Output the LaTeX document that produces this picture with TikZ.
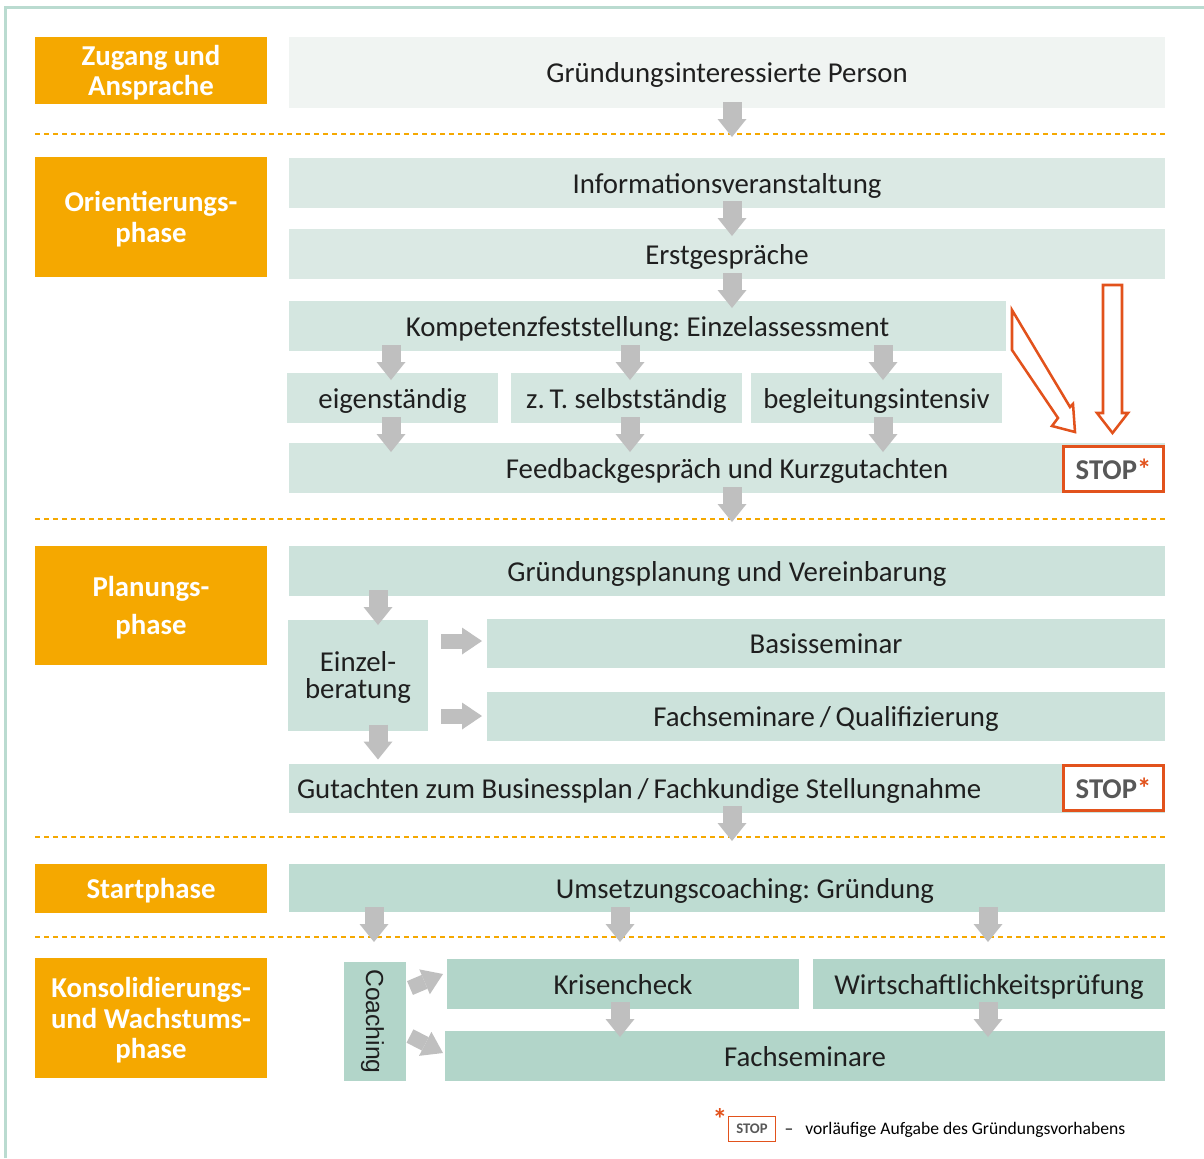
\documentclass[tikz,border=0pt]{standalone}
\usepackage{fontspec}
\setmainfont{Carlito}
\newfontfamily\coachfont{Liberation Sans}
\usetikzlibrary{arrows.meta,calc}

\definecolor{phaseorange}{RGB}{245,168,0}
\definecolor{stopred}{RGB}{226,82,28}
\definecolor{stopgray}{RGB}{88,88,88}
\definecolor{framegreen}{RGB}{186,219,208}
\definecolor{arrowgray}{RGB}{191,191,191}
\definecolor{boxa}{RGB}{240,244,242}
\definecolor{boxb}{RGB}{219,233,228}
\definecolor{boxc}{RGB}{212,230,224}
\definecolor{boxd}{RGB}{204,226,219}
\definecolor{boxe}{RGB}{190,220,210}
\definecolor{boxf}{RGB}{178,213,201}

\tikzset{
  wd/.style={minimum width=#1*0.75pt},
  ht/.style={minimum height=#1*0.75pt},
  box/.style={inner sep=0pt, outer sep=0pt, text depth=0pt, text=black!88,
    font=\fontsize{21.6}{25}\selectfont},
  phase/.style={box, fill=phaseorange, text=white, align=center, wd=232,
    font=\fontsize{21.6}{23}\selectfont\bfseries},
  stopbox/.style={draw=stopred, line width=2.2pt, fill=white, inner sep=0pt, wd=100, ht=45,
    text=stopgray, font=\fontsize{21.5}{22}\selectfont\bfseries},
  grayarr/.style={draw=arrowgray, line width=14.25pt,
    -{Triangle[width=21.75pt, length=13.5pt, line width=0pt]}},
  grayarrh/.style={draw=arrowgray, line width=11.25pt,
    -{Triangle[width=20.25pt, length=15pt, line width=0pt]}},
  phaseline/.style={draw=phaseorange, line width=1.2pt, dash pattern=on 3.75pt off 3pt},
  hollowarr/.style={draw=stopred, line width=1.9pt, line join=miter},
}

\begin{document}
\frenchspacing
\begin{tikzpicture}[x=0.75pt, y=-0.75pt]
    \useasboundingbox (0,0) rectangle (1204,1158);
    \draw[framegreen, line width=2.4pt] (5.5,1158) -- (5.5,7.5) -- (1204,7.5);

    % Trennlinien
    \draw[phaseline] (35,134) -- (1166,134);
    \draw[phaseline] (35,519) -- (1166,519);
    \draw[phaseline] (35,837) -- (1166,837);
    \draw[phaseline] (35,937) -- (1166,937);

    % Phasen
    \node[phase, ht=67] (zugang) at (151,70.5) {Zugang und\\Ansprache};
    \node[phase, ht=120] (orient) at (151,217) {Orientierungs-\\phase};
    \node[phase, ht=119] (plan) at (151,605.5) {Planungs-\\[5pt]phase};
    \node[phase, ht=49] (start) at (151,888.5) {Startphase};
    \node[phase, ht=120] (konsol) at (151,1018) {Konsolidierungs-\\und Wachstums-\\phase};

    % Zugang
    \node[box, fill=boxa, wd=876, ht=71] (person) at (727,72.5) {Gründungsinteressierte Person};

    % Orientierung
    \node[box, fill=boxb, wd=876, ht=50] (info) at (727,183) {Informationsveranstaltung};
    \node[box, fill=boxb, wd=876, ht=50] (erst) at (727,254) {Erstgespräche};
    \node[box, fill=boxc, wd=717, ht=50] (kompetenz) at (647.5,326) {Kompetenzfeststellung: Einzelassessment};
    \node[box, fill=boxc, wd=211, ht=50] (eigen) at (392.5,398) {eigenständig};
    \node[box, fill=boxc, wd=231, ht=50] (selbst) at (626.5,398) {z.\,T. selbstständig};
    \node[box, fill=boxc, wd=251, ht=50] (begl) at (876.5,398) {begleitungsintensiv};
    \node[box, fill=boxc, wd=876, ht=50] (feedback) at (727,468) {Feedbackgespräch und Kurzgutachten};
    \node[stopbox] (stopa) at (1113.5,469) {STOP\textcolor{stopred}{*}};

    % Planung
    \node[box, fill=boxd, wd=876, ht=50] (planung) at (727,571) {Gründungsplanung und Vereinbarung};
    \node[box, fill=boxd, wd=140, ht=111, align=center, font=\fontsize{21.6}{20}\selectfont] (einzel) at (358,675) {Einzel-\\beratung};
    \node[box, fill=boxd, wd=678, ht=49] (basis) at (826,643.5) {Basisseminar};
    \node[box, fill=boxd, wd=678, ht=49] (fachsem) at (826,716.5) {Fachseminare\,/\,Qualifizierung};
    \node[box, fill=boxd, wd=876, ht=49] (gutachten) at (727,788.5) {\makebox[645pt][l]{Gutachten zum Businessplan\,/\,Fachkundige Stellungnahme}};
    \node[stopbox] (stopb) at (1113.5,788) {STOP\textcolor{stopred}{*}};

    % Start
    \node[box, fill=boxe, wd=876, ht=48] (umsetz) at (727,888) {\hspace*{27pt}Umsetzungscoaching: Gründung};

    % Konsolidierung
    \node[box, fill=boxf, rotate=-90, wd=119, ht=62, font=\coachfont\fontsize{18.5}{20}\selectfont] (coaching) at (375,1021.5) {Coaching};
    \node[box, fill=boxf, wd=352, ht=50] (krisen) at (623,984) {Krisencheck};
    \node[box, fill=boxf, wd=352, ht=50] (wirt) at (989,984) {Wirtschaftlichkeitsprüfung};
    \node[box, fill=boxf, wd=720, ht=50] (fachs) at (805,1056) {Fachseminare};

    % graue Pfeile
    \draw[grayarr] ($(person.south)+(5,-6)$) -- ++(0,35);
    \draw[grayarr] ($(info.south)+(5,-7)$) -- ++(0,35);
    \draw[grayarr] ($(erst.south)+(5,-6)$) -- ++(0,35);
    \draw[grayarr] ($(kompetenz.south -| eigen.south)+(-1.5,-6)$) -- ++(0,35);
    \draw[grayarr] ($(kompetenz.south -| selbst.south)+(3.5,-6)$) -- ++(0,35);
    \draw[grayarr] ($(kompetenz.south -| begl.south)+(6.5,-6)$) -- ++(0,35);
    \draw[grayarr] ($(eigen.south)+(-1.5,-6)$) -- ++(0,35);
    \draw[grayarr] ($(selbst.south)+(3.5,-6)$) -- ++(0,35);
    \draw[grayarr] ($(begl.south)+(6.5,-6)$) -- ++(0,35);
    \draw[grayarr] ($(feedback.south)+(5,-6)$) -- ++(0,35);
    \draw[grayarr] ($(planung.south -| einzel.south)+(20,-6)$) -- ++(0,35);
    \draw[grayarrh] ($(einzel.east |- basis.west)+(13,-2.5)$) -- ++(41,0);
    \draw[grayarrh] ($(einzel.east |- fachsem.west)+(13,-0.5)$) -- ++(41,0);
    \draw[grayarr] ($(einzel.south)+(20,-6)$) -- ++(0,35);
    \draw[grayarr] ($(gutachten.south)+(5,-7)$) -- ++(0,35);
    \draw[grayarr] ($(umsetz.south -| coaching.center)+(-1,-5)$) -- ++(0,35);
    \draw[grayarr] ($(umsetz.south -| krisen.south)+(-3,-5)$) -- ++(0,35);
    \draw[grayarr] ($(umsetz.south -| wirt.south)+(-1,-5)$) -- ++(0,35);
    \draw[grayarr] ($(krisen.south)+(-3,-7)$) -- ++(0,35);
    \draw[grayarr] ($(wirt.south)+(-1,-7)$) -- ++(0,35);
    \draw[grayarrh] ($(coaching.center)+(35,-33.5)$) -- ($(krisen.west)+(-4,-10)$);
    \draw[grayarrh] ($(coaching.center)+(35,14.5)$) -- ($(fachs.west)+(-2,-3)$);

    % rote Pfeile zum STOP
    \draw[hollowarr] (1103,285) -- (1122,285) -- (1122,413) -- (1128,413) -- (1112.5,433)
        -- (1097,413) -- (1103,413) -- cycle;
    \draw[hollowarr] (1012,310) -- (1070,407) -- (1073,404) -- (1075,432) -- (1052,426)
        -- (1058,418) -- (1012,350) -- cycle;

    % Legende
    \node[text=stopred, font=\fontsize{22}{22}\selectfont\bfseries] (legstar) at (720,1119) {*};
    \node[draw=stopred, line width=1.2pt, inner sep=0pt, wd=47, ht=25, text=stopgray,
        font=\fontsize{11}{12}\selectfont\bfseries] (legstop) at (752,1129) {STOP};
    \node[anchor=base, inner sep=0pt, font=\fontsize{13.2}{15}\selectfont] (legdash) at (789,1134) {–};
    \node[anchor=base west, inner sep=0pt, font=\fontsize{13.2}{15}\selectfont] (legtext) at (805,1134) {vorläufige Aufgabe des Gründungsvorhabens};
\end{tikzpicture}
\end{document}
